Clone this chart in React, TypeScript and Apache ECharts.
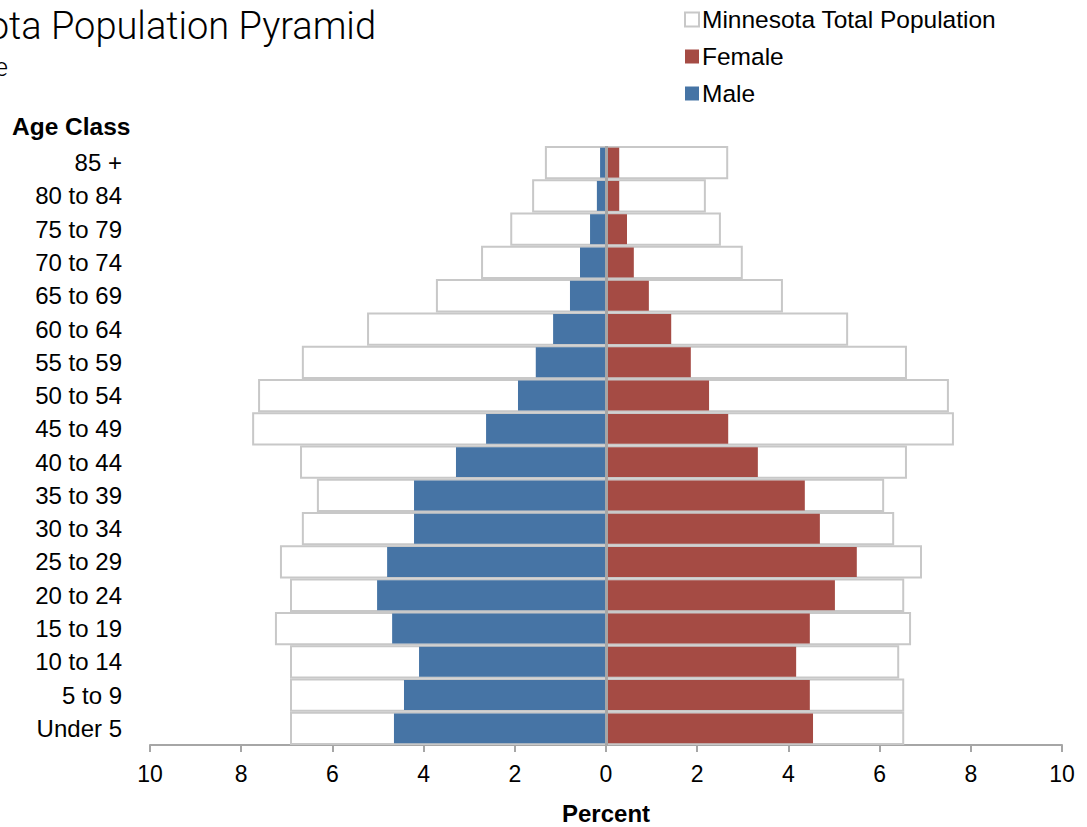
import React, { useEffect, useRef } from "react";
import * as echarts from "echarts";

// Bottom-to-top category order (ECharts category y axis starts at the bottom)
const ageClasses = [
  "Under 5", "5 to 9", "10 to 14", "15 to 19", "20 to 24", "25 to 29",
  "30 to 34", "35 to 39", "40 to 44", "45 to 49", "50 to 54", "55 to 59",
  "60 to 64", "65 to 69", "70 to 74", "75 to 79", "80 to 84", "85 +",
];
// Minnesota total population, left half (shown as negative) and right half
const totalLeft = [
  6.93, 6.93, 6.93, 7.26, 6.93, 7.15, 6.67, 6.34, 6.71, 7.76, 7.63, 6.67,
  5.24, 3.73, 2.74, 2.10, 1.62, 1.34,
];
const totalRight = [
  6.54, 6.54, 6.43, 6.69, 6.54, 6.93, 6.32, 6.10, 6.60, 7.63, 7.52, 6.60,
  5.31, 3.88, 3.00, 2.52, 2.19, 2.68,
];
const male = [
  4.65, 4.43, 4.10, 4.69, 5.02, 4.80, 4.21, 4.21, 3.29, 2.63, 1.93, 1.54,
  1.16, 0.79, 0.57, 0.35, 0.20, 0.13,
];
const female = [
  4.54, 4.47, 4.17, 4.47, 5.02, 5.50, 4.69, 4.36, 3.33, 2.68, 2.26, 1.86,
  1.43, 0.94, 0.61, 0.46, 0.29, 0.29,
];
const xTicks = { min: -10, max: 10, interval: 2 };

const FONT = "'Liberation Sans', Arial, Helvetica, sans-serif";

export default function App() {
  const ref = useRef<HTMLDivElement>(null);
  useEffect(() => {
    if (!ref.current) return;
    const chart = echarts.init(ref.current, null, { renderer: "svg" });
    const totalStyle = { color: "#ffffff", borderColor: "#c8c8c8", borderWidth: 2 };
    chart.setOption({
      animation: false,
      textStyle: { fontFamily: FONT, color: "#000" },
      title: [
        {
          text: "Minnesota Population Pyramid",
          right: 711,
          top: 7,
          padding: 0,
          textStyle: { fontFamily: "Roboto, " + FONT, fontWeight: 300, fontSize: 38, color: "#000" },
        },
        {
          text: "by Age",
          right: 1079,
          top: 54,
          padding: 0,
          textStyle: { fontFamily: "Roboto, " + FONT, fontWeight: 300, fontSize: 26, color: "#000" },
        },
      ],
      graphic: [
        {
          type: "text",
          left: 12,
          top: 114,
          style: { text: "Age Class", font: "bold 24.5px " + FONT, fill: "#000" },
        },
      ],
      legend: {
        orient: "vertical",
        left: 684,
        top: 7,
        padding: 0,
        itemWidth: 14,
        itemHeight: 14,
        itemGap: 12,
        icon: "rect",
        data: ["Minnesota Total Population", "Female", "Male"],
        textStyle: { fontSize: 24.5, color: "#000", fontFamily: FONT, padding: [0, 0, 0, -2] },
      },
      grid: { left: 150, right: 25, top: 146, bottom: 82, outerBoundsMode: "none" },
      xAxis: {
        type: "value",
        min: xTicks.min,
        max: xTicks.max,
        interval: xTicks.interval,
        axisLine: { show: true, lineStyle: { color: "#a6a6a6", width: 2 } },
        axisTick: { show: true, length: 7, lineStyle: { color: "#a6a6a6", width: 2 } },
        splitLine: { show: false },
        axisLabel: {
          fontSize: 23,
          color: "#000",
          margin: 17,
          formatter: (v: number) => String(Math.abs(v)),
        },
        name: "Percent",
        nameLocation: "middle",
        nameGap: 56,
        nameTextStyle: { fontSize: 24, fontWeight: "bold", color: "#000" },
      },
      yAxis: [
        {
          type: "category",
          data: ageClasses,
          axisLine: { show: false },
          axisTick: { show: false },
          axisLabel: { fontSize: 24, color: "#000", margin: 28 },
        },
        {
          type: "category",
          data: ageClasses,
          show: false,
        },
      ],
      series: [
        {
          name: "Minnesota Total Population",
          type: "bar",
          stack: "total",
          yAxisIndex: 0,
          barWidth: "100%",
          itemStyle: totalStyle,
          data: totalLeft.map((v) => -v),
        },
        {
          name: "Minnesota Total Population",
          type: "bar",
          stack: "total",
          yAxisIndex: 0,
          barWidth: "100%",
          itemStyle: totalStyle,
          data: totalRight,
        },
        {
          name: "Male",
          type: "bar",
          stack: "mf",
          yAxisIndex: 1,
          barWidth: "90%",
          itemStyle: { color: "#4674a5" },
          data: male.map((v) => -v),
        },
        {
          name: "Female",
          type: "bar",
          stack: "mf",
          yAxisIndex: 1,
          barWidth: "90%",
          itemStyle: { color: "#a54b44" },
          data: female,
          markLine: {
            silent: true,
            symbol: "none",
            label: { show: false },
            lineStyle: { color: "#a6a6a6", width: 3, type: "solid" },
            data: [{ xAxis: 0 }],
          },
        },
      ],
    });
    return () => chart.dispose();
  }, []);
  return (
    <div
      ref={ref}
      style={{ position: "absolute", left: 0, top: 0, width: 1087, height: 827 }}
    />
  );
}
